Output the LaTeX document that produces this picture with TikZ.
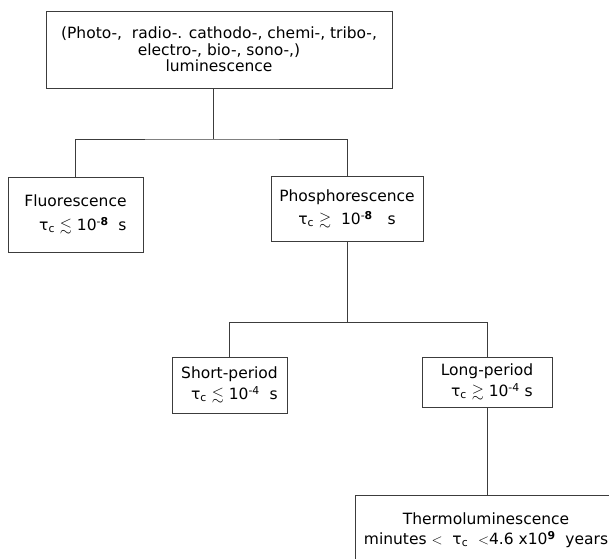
\documentclass[tikz,border=0pt]{standalone}
\usepackage{fontspec}
\setmainfont{DejaVu Sans}
\usepackage{amssymb, amsmath}
\usepackage{tikz}
\definecolor{linegray}{RGB}{60, 60, 60}
\newcommand{\tauc}{τ\textsubscript{c}}
\begin{document}
\begin{tikzpicture}[x=1pt, y=-1pt,
				kasten/.style={draw=linegray, line width=0.9pt, align=center, inner sep=0pt, minimum width=#1},
				verbindung/.style={draw=linegray, line width=0.9pt},
				font=\fontsize{15.5}{16.5}\selectfont]
				%Bildbereich
				\useasboundingbox (0,0) rectangle (609,558);
				\clip (0,0) rectangle (609,558);
				% Kaesten zeichnen
				\node[kasten=346pt, minimum height=77pt] (lum) at (219,49.5)
					{(Photo-,\ \ radio-. cathodo-, chemi-, tribo-,\\electro-, bio-, sono-,)\\luminescence};
				\node[kasten=135pt, minimum height=75pt] (fluo) at (75.5,214.5)
					{Fluorescence\\[7pt]\ \ \ \tauc\ $\lesssim$ 10\textsuperscript{-\textbf{8}}\ \ s};
				\node[kasten=152pt, minimum height=65pt] (phos) at (347,209)
					{Phosphorescence\\[5pt]\tauc\ $\gtrsim$\ \ 10\textsuperscript{-\textbf{8}}\ \ \ s};
				\node[kasten=115pt, minimum height=56pt] (short) at (229.5,385)
					{Short-period\\[4pt]\ \ \tauc\ $\lesssim$ 10\textsuperscript{-4}\ \ s};
				\node[kasten=130pt, minimum height=50pt] (long) at (487,382)
					{Long-period\\[4pt]\ \ \tauc\ $\gtrsim$\ 10\textsuperscript{-4} s};
				\node[kasten=262pt, minimum height=70pt] (thermo) at (486,530)
					{Thermoluminescence\\[4pt]minutes $<$\ \ \tauc\ \ $<$4.6 x10\textsuperscript{\textbf{9}}\ \ years};
				% Verzweigungen
				\coordinate (j1) at (213,139);
				\coordinate (j2) at (347,322);
				\draw[verbindung] (lum.south -| j1) -- (j1);
				\draw[verbindung] (fluo.north) |- (j1) -| (phos.north);
				\draw[verbindung] (phos.south) -- (j2);
				\draw[verbindung] (short.north) |- (j2) -| (long.north);
				\draw[verbindung] (long.south) -- (thermo.north -| long.south);
			\end{tikzpicture}
\end{document}
